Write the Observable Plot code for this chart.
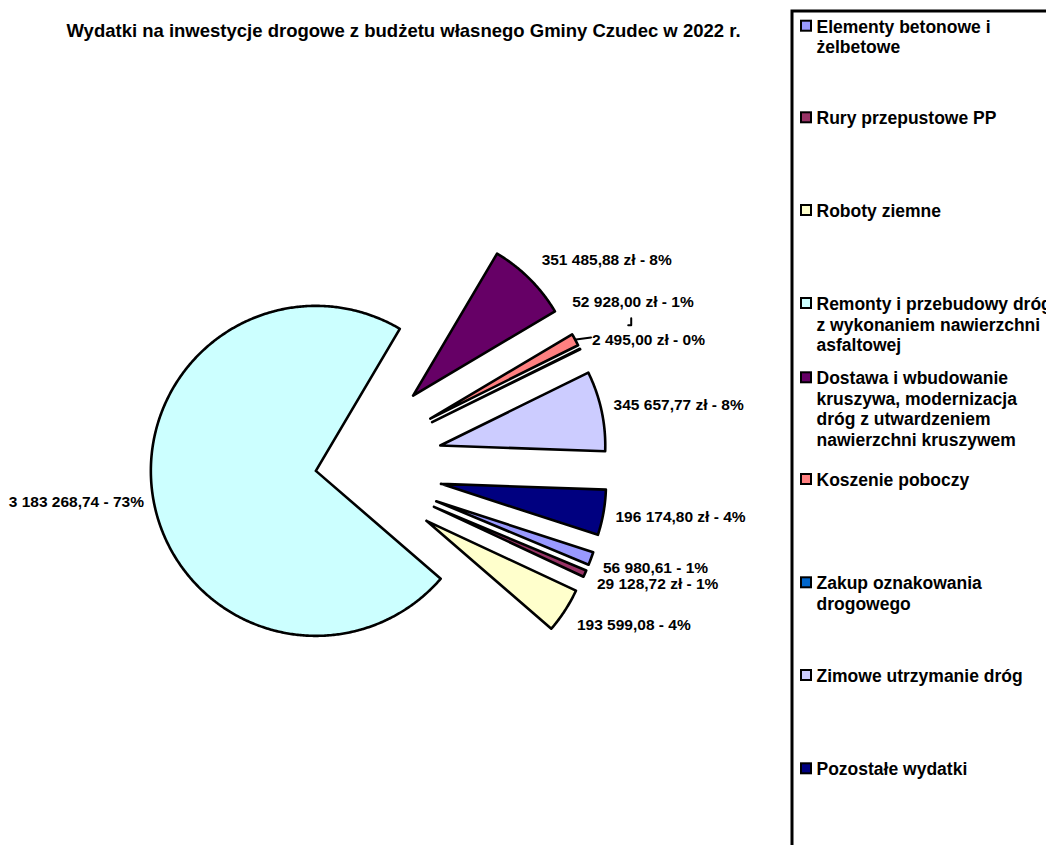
<!DOCTYPE html>
<html><head><meta charset="utf-8">
<script src="https://cdn.jsdelivr.net/npm/d3@7"></script>
<script src="https://cdn.jsdelivr.net/npm/@observablehq/plot@0.6"></script>
<style>html,body{margin:0;padding:0;background:#fff;overflow:hidden;} svg{display:block;}</style>
</head><body><div id="chart"></div>
<script>
// ---- data ----
const title = "Wydatki na inwestycje drogowe z budżetu własnego Gminy Czudec w 2022 r.";
const categories = [
  "Elementy betonowe i żelbetowe",
  "Rury przepustowe PP",
  "Roboty ziemne",
  "Remonty i przebudowy dróg z wykonaniem nawierzchni asfaltowej",
  "Dostawa i wbudowanie kruszywa, modernizacja dróg z utwardzeniem nawierzchni kruszywem",
  "Koszenie poboczy",
  "Zakup oznakowania drogowego",
  "Zimowe utrzymanie dróg",
  "Pozostałe wydatki"
];
const legendText = [
  "Elementy betonowe i\nżelbetowe",
  "Rury przepustowe PP",
  "Roboty ziemne",
  "Remonty i przebudowy dróg\nz wykonaniem nawierzchni\nasfaltowej",
  "Dostawa i wbudowanie\nkruszywa, modernizacja\ndróg z utwardzeniem\nnawierzchni kruszywem",
  "Koszenie poboczy",
  "Zakup oznakowania\ndrogowego",
  "Zimowe utrzymanie dróg",
  "Pozostałe wydatki"
];
const values = [56980.61, 29128.72, 193599.08, 3183268.74, 351485.88, 52928.00, 2495.00, 345657.77, 196174.80];
const labels = [
  "56 980,61 - 1%",
  "29 128,72 zł - 1%",
  "193 599,08 - 4%",
  "3 183 268,74 - 73%",
  "351 485,88 zł - 8%",
  "52 928,00 zł - 1%",
  "2 495,00 zł - 0%",
  "345 657,77 zł - 8%",
  "196 174,80 zł - 4%"
];
const colors = ["#9999FF","#993366","#FFFFCC","#CCFFFF","#660066","#FF8080","#0066CC","#CCCCFF","#000080"];

// ---- layout ----
const W = 1046, H = 845;
const CX = 342, CY = 466, R = 165;
const START = 108;                       // first slice angle (deg, clockwise from 12 o'clock)
const explode = [100,100,100,27,100,100,100,100,100];
const labelNudge = {5: [-15, -25], 6: [0, 3], 3: [3, 0]};
const legendTop = [26.7, 118.3, 211, 304, 378.3, 480, 583.3, 676, 769.3];
const legendLH = 20.5;
const FONT = "'Liberation Sans', Arial, Helvetica, sans-serif";

const rad = d => d * Math.PI / 180;
const arcs = d3.pie().sort(null).value(d => d)
  .startAngle(rad(START)).endAngle(rad(START) + 2 * Math.PI)(values);

const slices = arcs.map((a, i) => {
  const mid = (a.startAngle + a.endAngle) / 2;
  const ux = Math.sin(mid), uy = -Math.cos(mid);
  return {i, a, ux, uy, ax: CX + explode[i] * ux, ay: CY + explode[i] * uy};
});

const polyRows = [];
for (const s of slices) {
  const cat = categories[s.i];
  polyRows.push({cat, x: s.ax, y: s.ay});
  const span = s.a.endAngle - s.a.startAngle;
  const n = Math.max(2, Math.ceil(span / rad(0.5)));
  for (let k = 0; k <= n; k++) {
    const t = s.a.startAngle + span * k / n;
    polyRows.push({cat, x: s.ax + R * Math.sin(t), y: s.ay - R * Math.cos(t)});
  }
  polyRows.push({cat, x: s.ax, y: s.ay});
}

const labelRows = slices.map(s => {
  const px = s.ax + R * s.ux, py = s.ay + R * s.uy;
  const right = s.ux >= 0;
  const [ndx, ndy] = labelNudge[s.i] || [0, 0];
  return {i: s.i, text: labels[s.i], right, x: px + (right ? 12 : -12) + ndx, y: py + 26 * s.uy + ndy};
});

// small leader lines (Excel artefacts)
const lz = labelRows[6], lk = labelRows[5];
const leaderRows = [
  {g: "a", x: lz.x - 1, y: lz.y - 3}, {g: "a", x: lz.x - 16, y: lz.y - 1},
  {g: "b", x: lk.x + 59, y: lk.y + 16}, {g: "b", x: lk.x + 59, y: lk.y + 23}, {g: "b", x: lk.x + 56, y: lk.y + 23}
];

const swatchRows = categories.map((cat, i) => ({cat, x1: 801, x2: 811, y1: legendTop[i] - 6, y2: legendTop[i] + 4}));
const legendLineRows = [];
legendText.forEach((t, i) => t.split("\n").forEach((line, k) =>
  legendLineRows.push({text: line, x: 816, y: legendTop[i] + k * legendLH})));

const chart = Plot.plot({
  width: W, height: H, margin: 0,
  x: {type: "linear", domain: [0, W], range: [0, W], axis: null},
  y: {type: "linear", domain: [0, H], range: [0, H], axis: null},
  color: {type: "ordinal", domain: categories, range: colors},
  style: {fontFamily: FONT, background: "white"},
  marks: [
    Plot.line(polyRows, {x: "x", y: "y", z: "cat", fill: "cat", stroke: "black", strokeWidth: 2.6, strokeLinecap: "round", curve: "linear"}),
    Plot.line(leaderRows, {x: "x", y: "y", z: "g", stroke: "black", strokeWidth: 2, curve: "linear"}),
    Plot.text(labelRows.filter(d => d.right), {x: "x", y: "y", text: "text", textAnchor: "start", fontSize: 15.5, fontWeight: "bold", fill: "black"}),
    Plot.text(labelRows.filter(d => !d.right), {x: "x", y: "y", text: "text", textAnchor: "end", fontSize: 15.5, fontWeight: "bold", fill: "black"}),
    Plot.text([{t: title, x: 403, y: 31}], {x: "x", y: "y", text: "t", fontSize: 18.5, fontWeight: "bold", fill: "black"}),
    Plot.rect([{x1: 792, x2: 1080, y1: 11, y2: 880}], {x1: "x1", x2: "x2", y1: "y1", y2: "y2", fill: "white", stroke: "black", strokeWidth: 3}),
    Plot.rect(swatchRows, {x1: "x1", x2: "x2", y1: "y1", y2: "y2", fill: "cat", stroke: "black", strokeWidth: 2}),
    Plot.text(legendLineRows, {x: "x", y: "y", text: "text", textAnchor: "start", fontSize: 17.5, fontWeight: "bold", fill: "black"})
  ]
});
document.getElementById("chart").appendChild(chart);
</script>
</body></html>
